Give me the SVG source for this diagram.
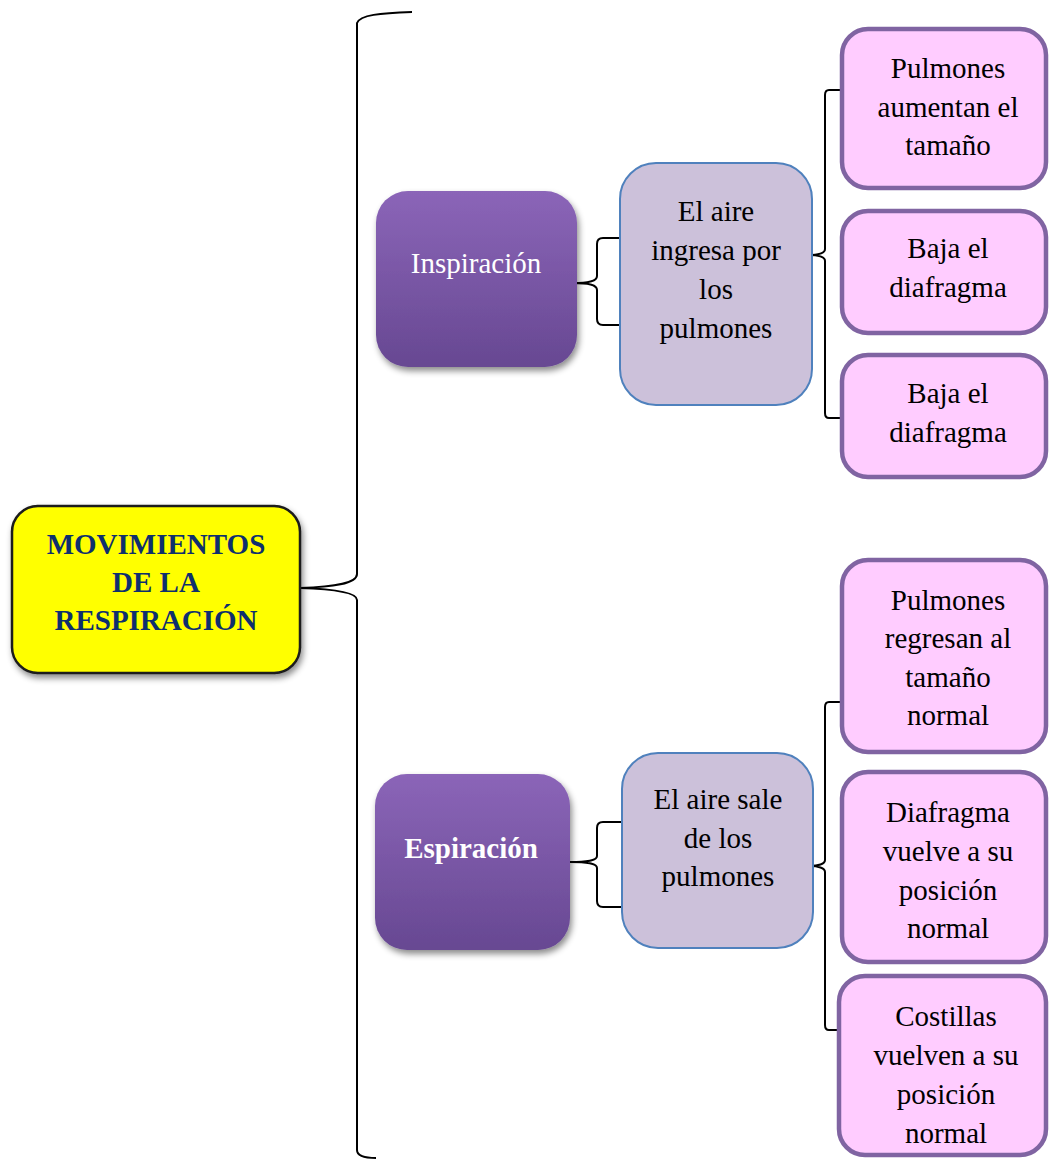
<svg xmlns="http://www.w3.org/2000/svg" width="1049" height="1160" viewBox="0 0 1049 1160">
  <style>
    .t { text-anchor: middle; }
    .root-t { fill: #0E2F6E; font-weight: bold; }
    .cat-t { fill: #FFFFFF; }
    .dark { fill: #000000; }
    .brace { fill: none; stroke: #000000; stroke-width: 2; }
    .mid { fill: #CCC1DA; stroke: #4F81BD; stroke-width: 2; }
    .leaf { fill: #FFCCFF; stroke: #8064A2; stroke-width: 4.5; }
  </style>
  <defs>
    <linearGradient id="purple" x1="0" y1="0" x2="0" y2="1">
      <stop offset="0" stop-color="#8B65B8"/>
      <stop offset="1" stop-color="#674892"/>
    </linearGradient>
    <filter id="shadow" x="-10%" y="-10%" width="125%" height="130%">
      <feDropShadow dx="2" dy="4" stdDeviation="3" flood-color="#000" flood-opacity="0.45"/>
    </filter>
  </defs>

  <rect width="1049" height="1160" fill="#FFFFFF"/>

  <!-- connectors (curly brackets) -->
  <g id="connectors">
    <path class="brace" d="M 412 12 C 380 13, 360 15, 357 23 L 357 574 C 357 584, 332 587, 300 588 C 332 589, 357 592, 357 600 L 357 1150 C 357 1156, 364 1158, 376 1158"/>
    <path class="brace" d="M 620 238 L 603 238 C 599 238, 597 240, 597 244 L 597 276 C 597 281, 590 283, 573 283 C 590 283, 597 285, 597 290 L 597 319 C 597 323, 599 325, 603 325 L 620 325"/>
    <path class="brace" d="M 840 90 L 829 90 C 826 90, 825 92, 825 95 L 825 249 C 825 253, 818 255, 808 255 C 818 255, 825 257, 825 261 L 825 413 C 825 416, 826 418, 829 418 L 840 418"/>
    <path class="brace" d="M 622 822 L 603 822 C 599 822, 597 824, 597 828 L 597 856 C 597 860, 590 862, 570 862 C 590 862, 597 864, 597 868 L 597 901 C 597 905, 599 907, 603 907 L 622 907"/>
    <path class="brace" d="M 840 702 L 829 702 C 826 702, 825 704, 825 707 L 825 860 C 825 864, 818 866, 810 866 C 818 866, 825 868, 825 872 L 825 1025 C 825 1028, 826 1030, 829 1030 L 840 1030"/>
  </g>

  <g font-family="Liberation Serif" font-size="29">
    <!-- root -->
    <g id="root">
      <rect x="12" y="506" width="288" height="167" rx="26" fill="#FFFF00" stroke="#1A1A1A" stroke-width="2.5" filter="url(#shadow)"/>
      <text class="t root-t" x="156" y="554">MOVIMIENTOS</text>
      <text class="t root-t" x="156" y="592">DE LA</text>
      <text class="t root-t" x="156" y="630">RESPIRACIÓN</text>
    </g>

    <!-- first branch -->
    <g id="inspiracion">
      <rect x="376" y="191" width="201" height="176" rx="32" fill="url(#purple)" filter="url(#shadow)"/>
      <text class="t cat-t" x="476" y="273">Inspiración</text>
    </g>
    <g id="aire-ingresa">
      <rect x="620" y="163" width="192" height="242" rx="36" class="mid"/>
      <text class="t dark" x="716" y="221">El aire</text>
      <text class="t dark" x="716" y="260">ingresa por</text>
      <text class="t dark" x="716" y="299">los</text>
      <text class="t dark" x="716" y="338">pulmones</text>
    </g>
    <g id="pulmones-aumentan">
      <rect x="842" y="29" width="204" height="159" rx="26" class="leaf"/>
      <text class="t dark" x="948" y="78">Pulmones</text>
      <text class="t dark" x="948" y="117">aumentan el</text>
      <text class="t dark" x="948" y="155">tamaño</text>
    </g>
    <g id="baja-diafragma-1">
      <rect x="842" y="211" width="204" height="122" rx="26" class="leaf"/>
      <text class="t dark" x="948" y="258">Baja el</text>
      <text class="t dark" x="948" y="297">diafragma</text>
    </g>
    <g id="baja-diafragma-2">
      <rect x="842" y="355" width="204" height="122" rx="26" class="leaf"/>
      <text class="t dark" x="948" y="403">Baja el</text>
      <text class="t dark" x="948" y="442">diafragma</text>
    </g>

    <!-- second branch -->
    <g id="espiracion">
      <rect x="375" y="774" width="195" height="176" rx="32" fill="url(#purple)" filter="url(#shadow)"/>
      <text class="t cat-t" x="471" y="858" font-weight="bold">Espiración</text>
    </g>
    <g id="aire-sale">
      <rect x="622" y="753" width="191" height="195" rx="36" class="mid"/>
      <text class="t dark" x="718" y="809">El aire sale</text>
      <text class="t dark" x="718" y="848">de los</text>
      <text class="t dark" x="718" y="886">pulmones</text>
    </g>
    <g id="pulmones-regresan">
      <rect x="842" y="560" width="204" height="192" rx="26" class="leaf"/>
      <text class="t dark" x="948" y="610">Pulmones</text>
      <text class="t dark" x="948" y="648">regresan al</text>
      <text class="t dark" x="948" y="687">tamaño</text>
      <text class="t dark" x="948" y="725">normal</text>
    </g>
    <g id="diafragma-vuelve">
      <rect x="842" y="772" width="204" height="190" rx="26" class="leaf"/>
      <text class="t dark" x="948" y="822">Diafragma</text>
      <text class="t dark" x="948" y="861">vuelve a su</text>
      <text class="t dark" x="948" y="900">posición</text>
      <text class="t dark" x="948" y="938">normal</text>
    </g>
    <g id="costillas-vuelven">
      <rect x="839" y="976" width="207" height="179" rx="26" class="leaf"/>
      <text class="t dark" x="946" y="1026">Costillas</text>
      <text class="t dark" x="946" y="1065">vuelven a su</text>
      <text class="t dark" x="946" y="1104">posición</text>
      <text class="t dark" x="946" y="1143">normal</text>
    </g>
  </g>
</svg>
